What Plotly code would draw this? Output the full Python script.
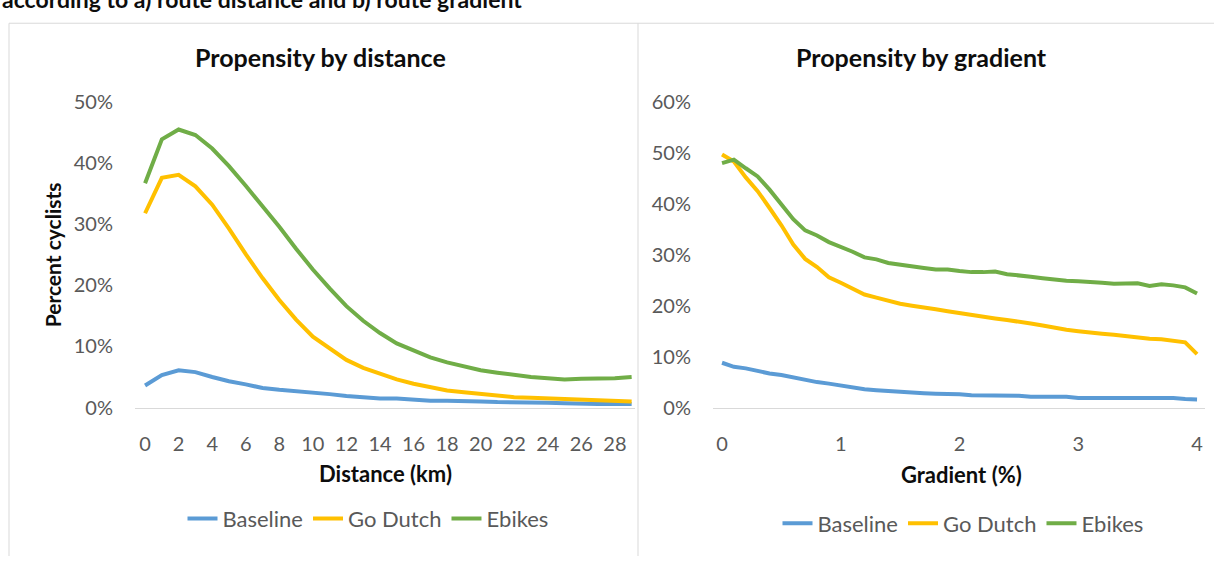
import plotly.graph_objects as go

# ---------------- data ----------------
distance_km = list(range(0, 30))
dist_baseline = [3.6, 5.3, 6.1, 5.8, 5.0, 4.3, 3.8, 3.2, 2.9, 2.7, 2.4, 2.2, 1.9, 1.7, 1.5,
                 1.5, 1.3, 1.1, 1.1, 1.1, 1.0, 0.9, 0.9, 0.8, 0.8, 0.7, 0.6, 0.6, 0.6, 0.6]
dist_godutch = [31.8, 37.6, 38.1, 36.2, 33.2, 29.3, 25.1, 21.2, 17.6, 14.4, 11.6, 9.6, 7.8, 6.5, 5.5,
                4.6, 3.9, 3.3, 2.8, 2.5, 2.2, 1.9, 1.7, 1.6, 1.5, 1.3, 1.3, 1.2, 1.1, 1.0]
dist_ebikes = [36.7, 43.9, 45.5, 44.6, 42.4, 39.5, 36.3, 33.0, 29.6, 26.0, 22.6, 19.5, 16.6, 14.2, 12.2,
               10.5, 9.3, 8.2, 7.4, 6.7, 6.1, 5.7, 5.3, 5.0, 4.8, 4.6, 4.7, 4.7, 4.8, 5.0]

gradient_pct = [round(i * 0.1, 1) for i in range(41)]
grad_baseline = [8.8, 8.0, 7.7, 7.1, 6.7, 6.4, 5.9, 5.5, 5.0, 4.7, 4.3, 3.9, 3.6, 3.4, 3.2, 3.0,
                 2.9, 2.8, 2.7, 2.7, 2.6, 2.4, 2.4, 2.4, 2.4, 2.3, 2.1, 2.1, 2.1, 2.1, 1.9, 1.9,
                 1.9, 1.9, 1.9, 1.9, 1.9, 1.9, 1.9, 1.7, 1.6]
grad_godutch = [49.7, 48.3, 45.2, 42.5, 39.2, 35.8, 32.0, 29.2, 27.6, 25.6, 24.5, 23.3, 22.2, 21.6,
                20.9, 20.4, 20.0, 19.7, 19.3, 18.9, 18.5, 18.1, 17.9, 17.5, 17.2, 16.9, 16.5, 16.1,
                15.6, 15.3, 15.0, 14.7, 14.5, 14.3, 14.0, 13.8, 13.5, 13.4, 13.1, 12.8, 10.5]
grad_ebikes = [48.0, 48.7, 47.0, 45.4, 42.8, 39.8, 37.0, 34.8, 33.8, 32.5, 31.6, 30.6, 29.5, 29.1,
               28.4, 28.0, 27.7, 27.4, 27.1, 27.1, 26.8, 26.6, 26.6, 26.7, 26.2, 26.0, 25.7, 25.4,
               25.1, 24.9, 24.8, 24.7, 24.5, 24.3, 24.3, 24.4, 23.9, 24.2, 24.0, 23.6, 22.4]

series_names = ["Baseline", "Go Dutch", "Ebikes"]
series_colors = ["#5b9bd5", "#ffc000", "#70ad47"]
dist_ticks = list(range(0, 30, 2))
dist_yticks = [0, 10, 20, 30, 40, 50]
dist_yticktext = ["0%", "10%", "20%", "30%", "40%", "50%"]
grad_ticks = [0, 1, 2, 3, 4]
grad_yticks = [0, 10, 20, 30, 40, 50, 60]
grad_yticktext = ["0%", "10%", "20%", "30%", "40%", "50%", "60%"]

# ---------------- figure ----------------
W, H = 1214, 567
FONT = "Lato"
TXT = "#595959"
DARK = "#0d0d0d"

def px(x):
    return x / W

def py(y):
    return (H - y) / H

fig = go.Figure()
for name, col, vals in zip(series_names, series_colors, [dist_baseline, dist_godutch, dist_ebikes]):
    fig.add_trace(go.Scatter(x=distance_km, y=vals, name=name, mode="lines",
                             line=dict(color=col, width=4), xaxis="x", yaxis="y",
                             legend="legend"))
for name, col, vals in zip(series_names, series_colors, [grad_baseline, grad_godutch, grad_ebikes]):
    fig.add_trace(go.Scatter(x=gradient_pct, y=vals, name=name, mode="lines",
                             line=dict(color=col, width=4), xaxis="x2", yaxis="y2",
                             legend="legend2"))

ydom = [py(412), py(93)]
axis_common = dict(showgrid=False, zeroline=False, ticks="",
                   tickfont=dict(family=FONT, size=20, color=TXT))

fig.update_layout(
    width=W, height=H,
    margin=dict(l=0, r=0, t=0, b=0),
    paper_bgcolor="white", plot_bgcolor="white",
    font=dict(family=FONT, color=TXT),
    title=dict(text="<b>according to a) route distance and b) route gradient</b>",
               x=px(2), xref="container", xanchor="left",
               y=1.0, yref="container", yanchor="middle",
               font=dict(family=FONT, size=23, color=DARK)),
    xaxis=dict(domain=[px(135), px(635)], range=[-0.6, 29.2], tickvals=dist_ticks,
               showline=True, linecolor="#d9d9d9", linewidth=1, anchor="y",
               ticklabelstandoff=18, **axis_common),
    yaxis=dict(domain=ydom, range=[0, 50], tickvals=dist_yticks, ticktext=dist_yticktext,
               showline=False, anchor="x", ticklabelstandoff=21, **axis_common),
    xaxis2=dict(domain=[px(713), px(1205)], range=[-0.076, 4.067], tickvals=grad_ticks,
                showline=True, linecolor="#d9d9d9", linewidth=1, anchor="y2",
                ticklabelstandoff=18, **axis_common),
    yaxis2=dict(domain=ydom, range=[0, 60], tickvals=grad_yticks, ticktext=grad_yticktext,
                showline=False, anchor="x2", ticklabelstandoff=21, **axis_common),
    legend=dict(orientation="h", x=px(368), xanchor="center", y=py(528), yanchor="middle",
                font=dict(family=FONT, size=22, color=TXT), bgcolor="rgba(0,0,0,0)",
                itemwidth=30, traceorder="normal"),
    legend2=dict(orientation="h", x=px(963), xanchor="center", y=py(533), yanchor="middle",
                 font=dict(family=FONT, size=22, color=TXT), bgcolor="rgba(0,0,0,0)",
                 itemwidth=30, traceorder="normal"),
    showlegend=True,
)

ann = [
    dict(text="<b>Propensity by distance</b>", x=px(320), y=py(46), xanchor="center",
         yanchor="middle", font=dict(family=FONT, size=25, color=DARK)),
    dict(text="<b>Propensity by gradient</b>", x=px(921), y=py(46), xanchor="center",
         yanchor="middle", font=dict(family=FONT, size=25, color=DARK)),
    dict(text="<b>Percent cyclists</b>", x=px(52.5), y=py(252.5), xanchor="center",
         yanchor="middle", textangle=-90, font=dict(family=FONT, size=21, color=DARK)),
    dict(text="<b>Distance (km)</b>", x=px(385), y=py(481), xanchor="center",
         yanchor="middle", font=dict(family=FONT, size=22, color=DARK)),
    dict(text="<b>Gradient (%)</b>", x=px(961), y=py(482), xanchor="center",
         yanchor="middle", font=dict(family=FONT, size=22, color=DARK)),
]
for a in ann:
    fig.add_annotation(xref="paper", yref="paper", showarrow=False, borderpad=0, **a)

border = "#d9d9d9"
fig.add_shape(type="line", xref="paper", yref="paper", x0=px(9), x1=px(9), y0=0, y1=py(10.7),
              line=dict(color=border, width=1))
fig.add_shape(type="line", xref="paper", yref="paper", x0=px(9), x1=1, y0=py(10.7), y1=py(10.7),
              line=dict(color=border, width=1))
fig.add_shape(type="line", xref="paper", yref="paper", x0=px(638), x1=px(638), y0=0, y1=py(10.7),
              line=dict(color=border, width=1))

fig.write_html("out.html", config={"displayModeBar": False},
               post_script="document.body.style.margin='0';document.body.style.overflow='hidden';")
